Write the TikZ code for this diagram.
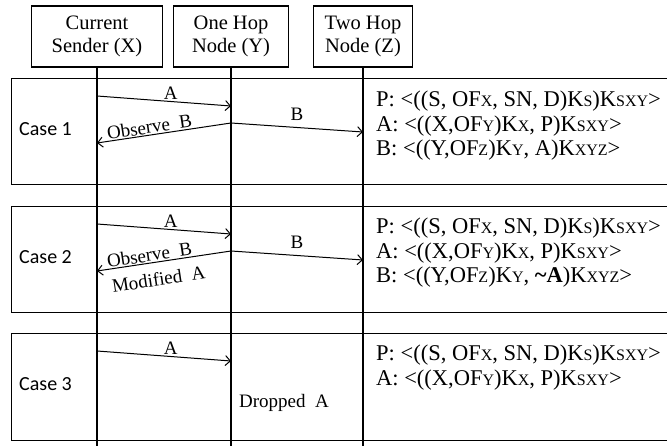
\documentclass[tikz,border=0pt]{standalone}
\usepackage{fontspec}
\setmainfont{Liberation Serif}
\newfontfamily\casefont{Carlito}
\usetikzlibrary{arrows.meta}
% kleine Großbuchstaben für die Schlüssel-Indizes
\newcommand{\sm}[1]{{\fontsize{16pt}{16pt}\selectfont #1}}

\begin{document}
\begin{tikzpicture}[x=1pt, y=-1pt]
    % Stile
    \tikzset{
        head/.style={draw, line width=1.8pt, minimum height=61pt, inner sep=0pt, align=center, font=\fontsize{20.5}{23}\selectfont},
        life/.style={line width=1.3pt},
        casebox/.style={line width=1pt},
        msg/.style={line width=1pt, -{Straight Barb[length=5pt,width=10pt]}},
        lbl/.style={font=\fontsize{19}{19}\selectfont, inner sep=1pt},
        caselbl/.style={font=\casefont\fontsize{20}{20}\selectfont, anchor=west, inner sep=0pt},
        keys/.style={font=\fontsize{22.5}{24.5}\selectfont, align=left, anchor=north west, inner sep=0pt}
    }
    \useasboundingbox (0,0) rectangle (667,446);

    % Kopfkästen der drei Knoten
    \node[head, minimum width=131pt] (X) at (97,36.5) {Current\\Sender (X)};
    \node[head, minimum width=115pt] (Y) at (231,36.5) {One Hop\\Node (Y)};
    \node[head, minimum width=99pt] (Z) at (363,36.5) {Two Hop\\Node (Z)};
    \coordinate (bot) at (0,446);

    % Fälle: Rahmen, Beschriftung, Punkte auf den Lebenslinien
    \foreach \t/\c in {79/1, 207/2, 334/3} {
        \draw[casebox] (667,\t) -- (11,\t) -- (11,\t+106) -- (667,\t+106);
        \node[caselbl] (case\c) at (19,\t+50) {Case \c};
        \coordinate (xa\c) at (97,\t+17);
        \coordinate (ya\c) at (231,\t+27);
        \coordinate (yb\c) at (231,\t+44);
        \coordinate (zb\c) at (363,\t+53);
        \coordinate (xb\c) at (97,\t+64);
    }

    % Lebenslinien
    \foreach \n in {X,Y,Z} {
        \draw[life] (\n.south) -- (\n.south |- bot);
    }

    % Fall 1
    \draw[msg] (xa1) -- node[lbl, above, pos=0.55] (a1) {A} (ya1);
    \draw[msg] (yb1) -- node[lbl, above=5pt, pos=0.5] (b1) {B} (zb1);
    \draw[msg] (yb1) -- node[lbl, above, sloped, pos=0.6] (ob1) {Observe\enspace B} (xb1);
    \node[keys] (k1) at (376,91) {P: <((S, OF\sm{X}, SN, D)K\sm{S})K\sm{SXY}>\\
        A: <((X,OF\sm{Y})K\sm{X}, P)K\sm{SXY}>\\
        B: <((Y,OF\sm{Z})K\sm{Y}, A)K\sm{XYZ}>};

    % Fall 2
    \draw[msg] (xa2) -- node[lbl, above, pos=0.55] (a2) {A} (ya2);
    \draw[msg] (yb2) -- node[lbl, above=5pt, pos=0.5] (b2) {B} (zb2);
    \draw[msg] (yb2) -- node[lbl, above, sloped, pos=0.6] (ob2) {Observe\enspace B}
        node[lbl, below=9pt, sloped, pos=0.56] (mod2) {Modified\enspace A} (xb2);
    \node[keys] (k2) at (376,218) {P: <((S, OF\sm{X}, SN, D)K\sm{S})K\sm{SXY}>\\
        A: <((X,OF\sm{Y})K\sm{X}, P)K\sm{SXY}>\\
        B: <((Y,OF\sm{Z})K\sm{Y}, {\bfseries\textasciitilde A})K\sm{XYZ}>};

    % Fall 3
    \draw[msg] (xa3) -- node[lbl, above, pos=0.55] (a3) {A} (ya3);
    \node[lbl] (drop) at (284,403) {Dropped\enspace A};
    \node[keys] (k3) at (376,345) {P: <((S, OF\sm{X}, SN, D)K\sm{S})K\sm{SXY}>\\
        A: <((X,OF\sm{Y})K\sm{X}, P)K\sm{SXY}>};
\end{tikzpicture}
\end{document}
